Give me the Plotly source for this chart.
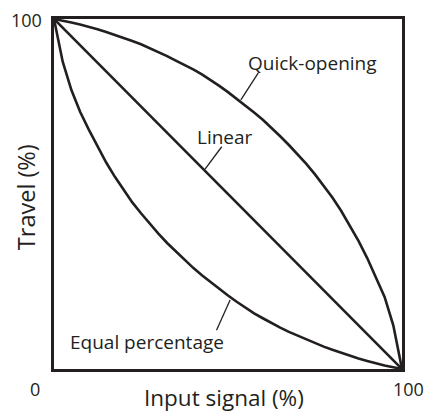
import plotly.graph_objects as go

# Data (percent)
input_signal = [0, 1.25, 2.5, 5, 7.5, 10, 12.5, 15, 17.5, 20, 22.5, 25, 27.5, 30, 32.5, 35, 37.5, 40, 42.5,
                45, 47.5, 50, 52.5, 55, 57.5, 60, 62.5, 65, 67.5, 70, 72.5, 75, 77.5, 80, 82.5, 85,
                87.5, 90, 92.5, 95, 97.5, 98.75, 100]
quick_opening = [100, 99.8, 99.5, 99.0, 98.4, 97.8, 97.1, 96.3, 95.5, 94.7, 93.7, 92.8, 91.7, 90.6, 89.4,
                 88.1, 86.9, 85.6, 84.2, 82.6, 80.9, 79.1, 77.2, 75.3, 73.3, 71.2, 68.9, 66.5, 64.0,
                 61.4, 58.6, 55.6, 52.4, 49.0, 45.2, 41.1, 36.6, 31.7, 26.3, 20.6, 12.5, 6.5, 0]
equal_percentage = [100, 93.5, 87.8, 79.7, 73.5, 68.4, 63.5, 59.0, 54.9, 51.1, 47.6, 44.5, 41.5, 38.7,
                    36.0, 33.6, 31.2, 28.9, 26.8, 24.8, 22.9, 21.0, 19.2, 17.5, 15.9, 14.5, 13.1, 11.8,
                    10.6, 9.5, 8.4, 7.4, 6.4, 5.5, 4.6, 3.8, 3.0, 2.3, 1.6, 1.0, 0.5, 0.2, 0]
linear_x = [0, 100]
linear_y = [100, 0]

labels = ["Quick-opening", "Linear", "Equal percentage"]
label_pos = [(74.2, 87.3), (49.1, 66.4), (26.6, 7.8)]
leader_lines = [((58.7, 84.6), (53.7, 76.9)), ((48.2, 63.5), (43.4, 57.1)), ((46.7, 11.1), (50.6, 19.7))]

INK = "#231f20"
FONT = "Open Sans"

fig = go.Figure()
fig.add_trace(go.Scatter(x=input_signal, y=quick_opening, mode="lines",
                         line=dict(color=INK, width=2.6)))
fig.add_trace(go.Scatter(x=linear_x, y=linear_y, mode="lines", line=dict(color=INK, width=2.6)))
fig.add_trace(go.Scatter(x=input_signal, y=equal_percentage, mode="lines",
                         line=dict(color=INK, width=2.6)))

annotations = []
for txt, (ax_, ay_) in zip(labels, label_pos):
    annotations.append(dict(x=ax_, y=ay_, xref="x", yref="y", text=txt, showarrow=False,
                            font=dict(family=FONT, size=19, color=INK)))
# tick labels and axis titles
annotations += [
    dict(x=0, y=1, xref="paper", yref="paper", text="100", showarrow=False, xanchor="right",
         yanchor="middle", xshift=-10, yshift=-1, font=dict(family=FONT, size=18, color=INK)),
    dict(x=0, y=0, xref="paper", yref="paper", text="0", showarrow=False, xanchor="center",
         yanchor="middle", xshift=-19, yshift=-20, font=dict(family=FONT, size=18, color=INK)),
    dict(x=1, y=0, xref="paper", yref="paper", text="100", showarrow=False, xanchor="center",
         yanchor="middle", xshift=6, yshift=-20, font=dict(family=FONT, size=18, color=INK)),
    dict(x=0.5, y=0, xref="paper", yref="paper", text="Input signal (%)", showarrow=False,
         yanchor="middle", xshift=-4, yshift=-28, font=dict(family=FONT, size=22.5, color=INK)),
    dict(x=0, y=0.491, xref="paper", yref="paper", text="Travel (%)", showarrow=False,
         textangle=-90, xanchor="center", yanchor="middle", xshift=-28,
         font=dict(family=FONT, size=23.5, color=INK)),
]

shapes = []
for (p0, p1) in leader_lines:
    shapes.append(dict(type="line", x0=p0[0], y0=p0[1], x1=p1[0], y1=p1[1], xref="x", yref="y",
                       line=dict(color=INK, width=1.3)))

fig.update_layout(
    width=424, height=412,
    margin=dict(l=54, r=22, t=19, b=43),
    paper_bgcolor="white", plot_bgcolor="white",
    showlegend=False, hovermode=False,
    annotations=annotations, shapes=shapes,
    xaxis=dict(range=[0, 100], showgrid=False, zeroline=False, showticklabels=False, ticks="",
               showline=True, mirror=True, linecolor=INK, linewidth=3),
    yaxis=dict(range=[0, 100], showgrid=False, zeroline=False, showticklabels=False, ticks="",
               showline=True, mirror=True, linecolor=INK, linewidth=3),
)

fig.write_html("out.html", config={"displayModeBar": False},
               post_script="document.body.style.margin='0';document.body.style.overflow='hidden';")
